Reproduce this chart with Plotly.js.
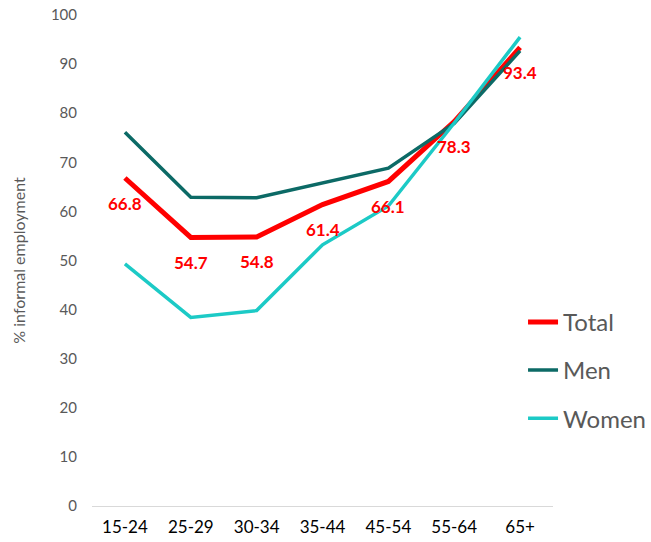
<!DOCTYPE html>
<html>
<head>
<meta charset="utf-8">
<script src="https://cdn.plot.ly/plotly-3.0.1.min.js"></script>
<style>html,body{margin:0;padding:0;background:#fff;}#chart{width:651px;height:542px;}</style>
</head>
<body>
<div id="chart"></div>
<script>
const ageGroups = ["15-24", "25-29", "30-34", "35-44", "45-54", "55-64", "65+"];
const totalValues = [66.8, 54.7, 54.8, 61.4, 66.1, 78.3, 93.4];
const menValues = [76.1, 62.9, 62.8, 65.8, 68.8, 77.9, 92.7];
const womenValues = [49.3, 38.4, 39.8, 53.2, 61.1, 78.0, 95.5];
const yTicks = [0, 10, 20, 30, 40, 50, 60, 70, 80, 90, 100];

const FONT = "Lato, 'Open Sans', sans-serif";

const traces = [
  {x: ageGroups, y: totalValues, name: "Total", type: "scatter", mode: "lines",
   line: {color: "#FF0000", width: 5}, legendgroup: "a"},
  {x: ageGroups, y: menValues, name: "Men", type: "scatter", mode: "lines",
   line: {color: "#0C6A66", width: 3.5}, legendgroup: "b"},
  {x: ageGroups, y: womenValues, name: "Women", type: "scatter", mode: "lines",
   line: {color: "#1CCAC6", width: 3.5}, legendgroup: "c"}
];

const annotations = ageGroups.map((g, i) => ({
  x: g, y: totalValues[i], xref: "x", yref: "y",
  text: totalValues[i].toFixed(1), showarrow: false, yshift: -25,
  font: {family: FONT, size: 17, color: "#FF0000", weight: "bold"}
}));

const layout = {
  width: 651, height: 542,
  margin: {l: 92, r: 98, t: 15, b: 36, autoexpand: false},
  paper_bgcolor: "#fff", plot_bgcolor: "#fff",
  font: {family: FONT, color: "#595959"},
  xaxis: {
    type: "category", range: [-0.5, 6.5], showgrid: false, zeroline: false,
    showline: true, linecolor: "#D9D9D9", linewidth: 1,
    ticks: "", tickfont: {size: 17, color: "#000"}, ticklabelstandoff: 6
  },
  yaxis: {
    range: [0, 100], tickvals: yTicks, showgrid: false, zeroline: false, showline: false,
    ticks: "", tickfont: {size: 15, color: "#595959"}, ticklabelstandoff: 14,
    title: {text: "% informal employment", font: {size: 16, color: "#595959"}, standoff: 21}
  },
  showlegend: true,
  legend: {
    x: 0.935, y: 0.42, xanchor: "left", yanchor: "top",
    font: {size: 24, color: "#595959"}, tracegroupgap: 14,
    bgcolor: "rgba(0,0,0,0)", itemwidth: 30
  },
  annotations: annotations
};

Plotly.newPlot("chart", traces, layout, {displayModeBar: false});
</script>
</body>
</html>
